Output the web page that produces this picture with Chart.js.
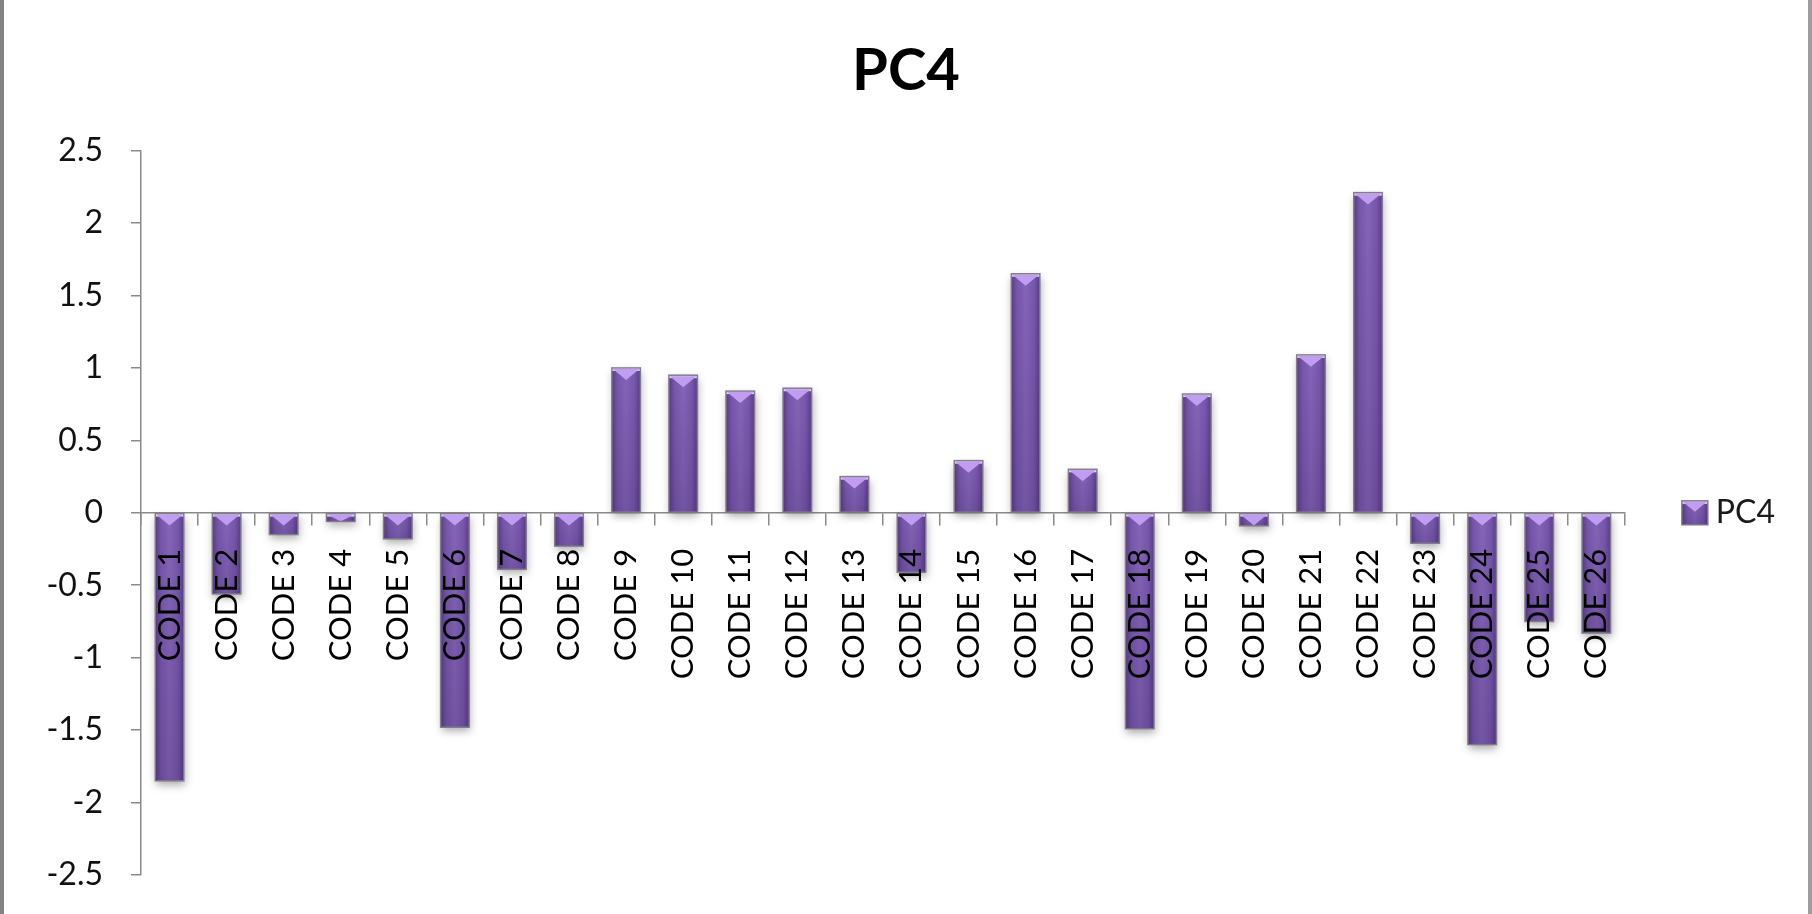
<!DOCTYPE html>
<html>
<head>
<meta charset="utf-8">
<script src="https://cdn.jsdelivr.net/npm/chart.js@4.4.1/dist/chart.umd.min.js"></script>
<style>
  html, body { margin: 0; padding: 0; background: #fff; }
  #wrap { position: relative; width: 1812px; height: 914px; overflow: hidden; background: #fff; }
  #c { position: absolute; left: 0; top: 0; }
  .edge { position: absolute; top: 0; bottom: 0; }
</style>
</head>
<body>
<div id="wrap">
  <canvas id="c" width="1812" height="914"></canvas>
  <div class="edge" style="left:0;width:4px;background:#828282"></div>
  <div class="edge" style="right:0;width:4px;background:#9d9d9d"></div>
</div>
<script>
// Category names along the horizontal axis
const categories = [
  'CODE 1', 'CODE 2', 'CODE 3', 'CODE 4', 'CODE 5', 'CODE 6', 'CODE 7',
  'CODE 8', 'CODE 9', 'CODE 10', 'CODE 11', 'CODE 12', 'CODE 13', 'CODE 14',
  'CODE 15', 'CODE 16', 'CODE 17', 'CODE 18', 'CODE 19', 'CODE 20', 'CODE 21',
  'CODE 22', 'CODE 23', 'CODE 24', 'CODE 25', 'CODE 26'
];

// Fourth principal component score per code
const pc4 = [
  -1.85, -0.56, -0.15, -0.06, -0.18, -1.48, -0.39,
  -0.23, 1.00, 0.95, 0.84, 0.86, 0.25, -0.41,
  0.36, 1.65, 0.30, -1.49, 0.82, -0.09, 1.09,
  2.21, -0.21, -1.60, -0.75, -0.83
];

// Value axis ticks
const yTickValues = [-2.5, -2, -1.5, -1, -0.5, 0, 0.5, 1, 1.5, 2, 2.5];
const yTickLabels = ['-2.5', '-2', '-1.5', '-1', '-0.5', '0', '0.5', '1', '1.5', '2', '2.5'];

const seriesName = 'PC4';
const chartTitle = 'PC4';

const BAR_FILL = '#7c5bb2';
const BAR_EDGE = 'rgba(128,122,138,0.95)';
const AXIS_GREY = '#8a8a8a';
const FONT = 'Lato';
const SIDE_PAD = 27;
const LEGEND_SWATCH = { w: 26, h: 24 };

function drawBevel(ctx, l, t, w, h) {
  const r = l + w, b = t + h, cx = l + w / 2;
  ctx.save();
  ctx.beginPath();
  ctx.rect(l, t, w, h);
  ctx.clip();
  // rounded side shading
  const gh = ctx.createLinearGradient(l, 0, r, 0);
  gh.addColorStop(0, 'rgba(40,18,75,0.42)');
  gh.addColorStop(0.2, 'rgba(40,18,75,0.06)');
  gh.addColorStop(0.5, 'rgba(255,255,255,0.06)');
  gh.addColorStop(0.8, 'rgba(40,18,75,0.06)');
  gh.addColorStop(1, 'rgba(40,18,75,0.42)');
  ctx.fillStyle = gh;
  ctx.fillRect(l, t, w, h);
  // darker toward the lower end
  const gv = ctx.createLinearGradient(0, t, 0, b);
  gv.addColorStop(0, 'rgba(30,10,60,0)');
  gv.addColorStop(1, 'rgba(30,10,60,0.16)');
  ctx.fillStyle = gv;
  ctx.fillRect(l, t, w, h);
  // top bevel: light band and downward facet
  ctx.fillStyle = '#e6d6fb';
  ctx.fillRect(l, t, w, Math.min(h, 3));
  ctx.beginPath();
  ctx.moveTo(l + 1, t + 1);
  ctx.lineTo(r - 1, t + 1);
  ctx.lineTo(cx, t + Math.min(h, w * 0.42));
  ctx.closePath();
  ctx.fillStyle = '#c09df1';
  ctx.fill();
  ctx.restore();
  ctx.save();
  ctx.strokeStyle = BAR_EDGE;
  ctx.lineWidth = 1.5;
  ctx.strokeRect(l, t, w, h);
  ctx.restore();
}

const bevelPlugin = {
  id: 'bevel',
  beforeDatasetDraw(chart) {
    const ctx = chart.ctx;
    ctx.save();
    ctx.shadowColor = 'rgba(70,70,70,0.45)';
    ctx.shadowBlur = 8;
    ctx.shadowOffsetX = 1;
    ctx.shadowOffsetY = 4;
  },
  afterDatasetDraw(chart) {
    chart.ctx.restore();
  },
  afterDatasetsDraw(chart) {
    const ctx = chart.ctx;
    chart.getDatasetMeta(0).data.forEach(bar => {
      const p = bar.getProps(['x', 'y', 'base', 'width'], true);
      const t = Math.min(p.y, p.base);
      const h = Math.abs(p.base - p.y);
      drawBevel(ctx, p.x - p.width / 2, t, p.width, h);
    });
  },
  afterDraw(chart) {
    // legend swatch drawn with the same bevel as the bars
    const lg = chart.legend;
    if (!lg || !lg.legendHitBoxes || !lg.legendHitBoxes.length) return;
    const hb = lg.legendHitBoxes[0];
    const cy = hb.top + hb.height / 2;
    const ctx = chart.ctx;
    ctx.fillStyle = BAR_FILL;
    ctx.fillRect(hb.left, cy - LEGEND_SWATCH.h / 2, LEGEND_SWATCH.w, LEGEND_SWATCH.h);
    drawBevel(ctx, hb.left, cy - LEGEND_SWATCH.h / 2, LEGEND_SWATCH.w, LEGEND_SWATCH.h);
  }
};

function build() {
  new Chart(document.getElementById('c'), {
    type: 'bar',
    data: {
      labels: categories,
      datasets: [{
        label: seriesName,
        data: pc4,
        backgroundColor: BAR_FILL,
        borderWidth: 0,
        barPercentage: 0.5,
        categoryPercentage: 1.0
      }]
    },
    plugins: [bevelPlugin],
    options: {
      responsive: false,
      animation: false,
      devicePixelRatio: 1,
      layout: { padding: { left: SIDE_PAD, right: SIDE_PAD, top: 0, bottom: 39 } },
      plugins: {
        title: {
          display: true,
          text: chartTitle,
          color: '#000',
          font: { family: FONT, size: 58, weight: 'bold' },
          padding: { top: 36, bottom: 45 }
        },
        legend: {
          position: 'right',
          fullSize: false,
          labels: {
            color: '#1a1a1a',
            font: { family: FONT, size: 32 },
            boxWidth: 18,
            boxHeight: 24,
            padding: 57
          }
        },
        tooltip: { enabled: false }
      },
      scales: {
        x: {
          position: { y: 0 },
          offset: true,
          afterFit(scale) { scale.height = 0; },
          grid: {
            display: true,
            drawOnChartArea: false,
            drawTicks: true,
            tickLength: 12,
            color: AXIS_GREY,
            lineWidth: 1.5,
            offset: true
          },
          border: { display: true, color: AXIS_GREY, width: 1.5 },
          ticks: {
            z: 1,
            minRotation: 90,
            maxRotation: 90,
            autoSkip: false,
            padding: 24,
            color: '#000',
            font: { family: FONT, size: 31 }
          }
        },
        y: {
          min: -2.5,
          max: 2.5,
          afterFit(scale) {
            scale.width = 141 - SIDE_PAD;
            scale.paddingTop = 0;
            scale.paddingBottom = 0;
          },
          afterBuildTicks(scale) { scale.ticks = yTickValues.map(v => ({ value: v })); },
          grid: {
            drawOnChartArea: false,
            drawTicks: true,
            tickLength: 10,
            color: AXIS_GREY,
            lineWidth: 1.5
          },
          border: { display: true, color: AXIS_GREY, width: 1.5 },
          ticks: {
            padding: 28,
            color: '#111',
            font: { family: FONT, size: 32 },
            callback: v => yTickLabels[yTickValues.indexOf(v)]
          }
        }
      }
    }
  });
}

Promise.all([
  document.fonts.load('bold 58px Lato'),
  document.fonts.load('31px Lato')
]).then(build, build);
</script>
</body>
</html>
